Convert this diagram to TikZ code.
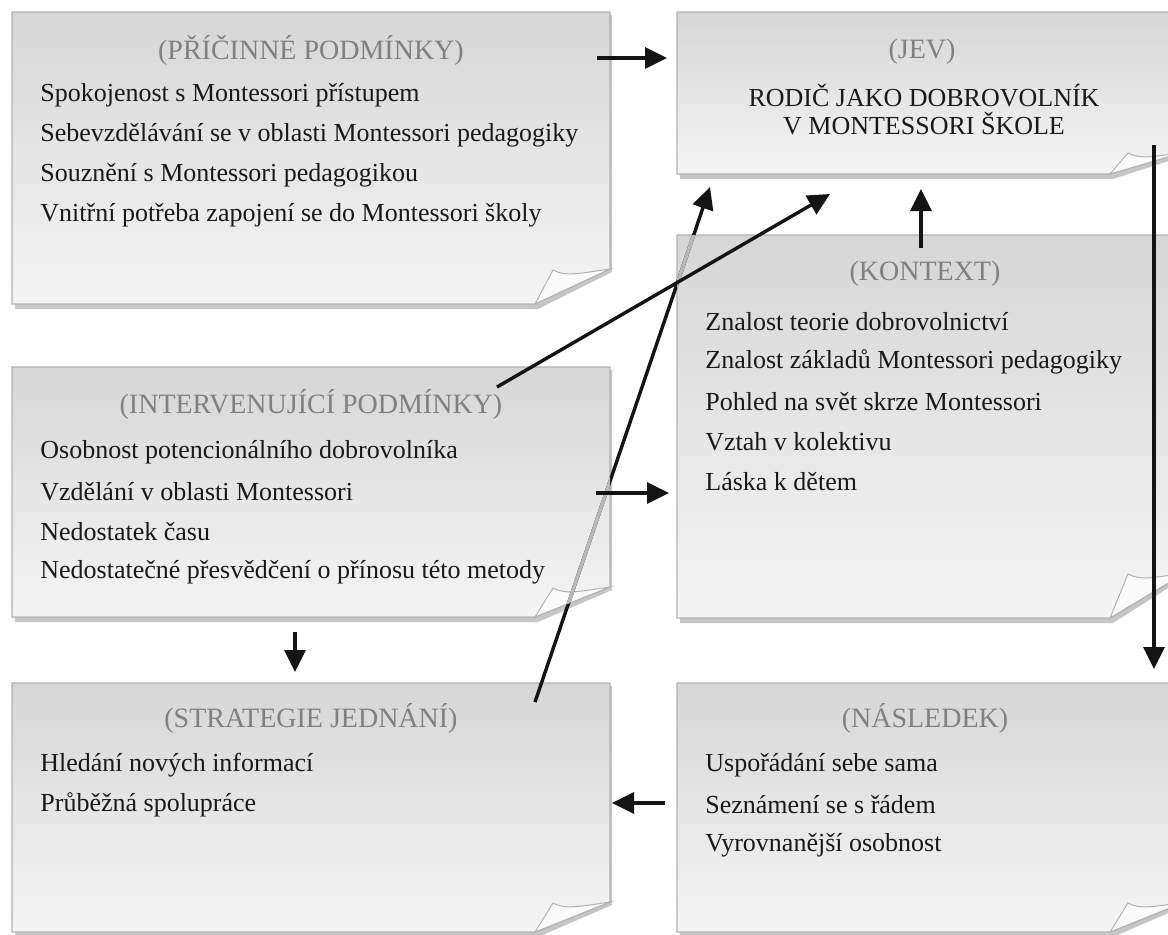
\documentclass[tikz,border=0pt]{standalone}
\usepackage{fontspec}
\setmainfont{Liberation Serif}
\usetikzlibrary{arrows.meta,positioning}

\tikzset{
  nadpis/.style={text=black!50, font=\fontsize{14}{17}\selectfont, inner sep=0pt},
  polozka/.style={text=black!90, font=\fontsize{13}{16}\selectfont, anchor=west, inner sep=0pt},
  jev/.style={text=black!90, font=\fontsize{13}{16}\selectfont, inner sep=0pt},
  sipka/.style={-{Triangle[length=11pt,width=10.5pt]}, line width=1.7pt, black!92}
}

% outline of a note: x0, y0, x1, y1, height of the curl
\newcommand{\obrys}[5]{(#1,#2) -- (#3,#2) -- (#3,#4-#5) -- (#3-75,#4) -- (#1,#4) -- cycle}
% note with shadow and curled corner
\newcommand{\listek}[5]{%
  \fill[gray!45] (#1+3,#2+3) -- (#3+2,#2+3) -- (#3+2,#4-#5+3) -- (#3-72,#4+5) -- (#1+3,#4+5) -- cycle;
  \shadedraw[top color=gray!32, middle color=gray!14, bottom color=gray!8, draw=gray!60, line width=0.6pt]
    \obrys{#1}{#2}{#3}{#4}{#5};
  \filldraw[fill=gray!3, draw=gray!60, line width=0.5pt]
    (#3-75,#4) -- (#3-57,#4-#5+1) .. controls (#3-45,#4-#5+8) and (#3-28,#4-#5+4) .. (#3,#4-#5) -- cycle;
}

\begin{document}
\begin{tikzpicture}[x=0.5pt,y=-0.5pt]
\useasboundingbox (0,0) rectangle (1168,934);
\fill[white] (0,0) rectangle (1168,934);

% notes
\listek{12}{12}{610}{304}{35}
\listek{677}{12}{1185}{174}{22}
\listek{677}{235}{1185}{618}{45}
\listek{12}{367}{610}{617}{30}
\listek{12}{683}{610}{932}{30}
\listek{677}{683}{1185}{932}{30}

% texts
\node[nadpis] (pricT) at (311,50) {(PŘÍČINNÉ PODMÍNKY)};
\node[polozka] (pric1) at (40,95) {Spokojenost s Montessori přístupem};
\node[polozka] (pric2) at (40,135) {Sebevzdělávání se v oblasti Montessori pedagogiky};
\node[polozka] (pric3) at (40,175) {Souznění s Montessori pedagogikou};
\node[polozka] (pric4) at (40,215) {Vnitřní potřeba zapojení se do Montessori školy};

\node[nadpis] (jevT) at (922,52) {(JEV)};
\node[jev] (jev1) at (924,96) {RODIČ JAKO DOBROVOLNÍK};
\node[jev] (jev2) at (924,124) {V MONTESSORI ŠKOLE};

\node[nadpis] (kontT) at (925,274) {(KONTEXT)};
\node[polozka] (kont1) at (705,322) {Znalost teorie dobrovolnictví};
\node[polozka] (kont2) at (705,362) {Znalost základů Montessori pedagogiky};
\node[polozka] (kont3) at (705,402) {Pohled na svět skrze Montessori};
\node[polozka] (kont4) at (705,442) {Vztah v kolektivu};
\node[polozka] (kont5) at (705,482) {Láska k dětem};

\node[nadpis] (intT) at (311,404) {(INTERVENUJÍCÍ PODMÍNKY)};
\node[polozka] (int1) at (40,452) {Osobnost potencionálního dobrovolníka};
\node[polozka] (int2) at (40,492) {Vzdělání v oblasti Montessori};
\node[polozka] (int3) at (40,532) {Nedostatek času};
\node[polozka] (int4) at (40,572) {Nedostatečné přesvědčení o přínosu této metody};

\node[nadpis] (strT) at (311,718) {(STRATEGIE JEDNÁNÍ)};
\node[polozka] (str1) at (40,765) {Hledání nových informací};
\node[polozka] (str2) at (40,805) {Průběžná spolupráce};

\node[nadpis] (nasT) at (925,718) {(NÁSLEDEK)};
\node[polozka] (nas1) at (705,765) {Uspořádání sebe sama};
\node[polozka] (nas2) at (705,805) {Seznámení se s řádem};
\node[polozka] (nas3) at (705,845) {Vyrovnanější osobnost};

% arrow ends
\coordinate (pricOut) at (597,58);
\coordinate (jevIn1) at (667,58);
\coordinate (jevOut) at (1154,145);
\coordinate (nasIn) at (1154,669);
\coordinate (kontOut) at (921,248);
\coordinate (jevIn2) at (921,189);
\coordinate (strOut) at (535,702);
\coordinate (jevIn3) at (710,187);
\coordinate (intOut1) at (497,387);
\coordinate (jevIn4) at (830,194);
\coordinate (intOut2) at (596,493);
\coordinate (kontIn) at (669,493);
\coordinate (intOut3) at (295,632);
\coordinate (strIn) at (295,672);
\coordinate (nasOut) at (665,803);
\coordinate (strIn2) at (612,803);

% arrows
\draw[sipka] (strOut) -- (jevIn3);
\begin{scope}
  \clip \obrys{12}{367}{610}{617}{30};
  \draw[line width=1.7pt, gray!55] (strOut) -- (jevIn3);
\end{scope}
\begin{scope}
  \clip \obrys{677}{235}{1185}{618}{45};
  \draw[line width=1.7pt, gray!55] (strOut) -- (jevIn3);
\end{scope}
\draw[sipka] (pricOut) -- (jevIn1);
\draw[sipka] (jevOut) -- (nasIn);
\draw[sipka] (kontOut) -- (jevIn2);
\draw[sipka] (intOut1) -- (jevIn4);
\draw[sipka] (intOut2) -- (kontIn);
\draw[sipka] (intOut3) -- (strIn);
\draw[sipka] (nasOut) -- (strIn2);
\end{tikzpicture}
\end{document}
